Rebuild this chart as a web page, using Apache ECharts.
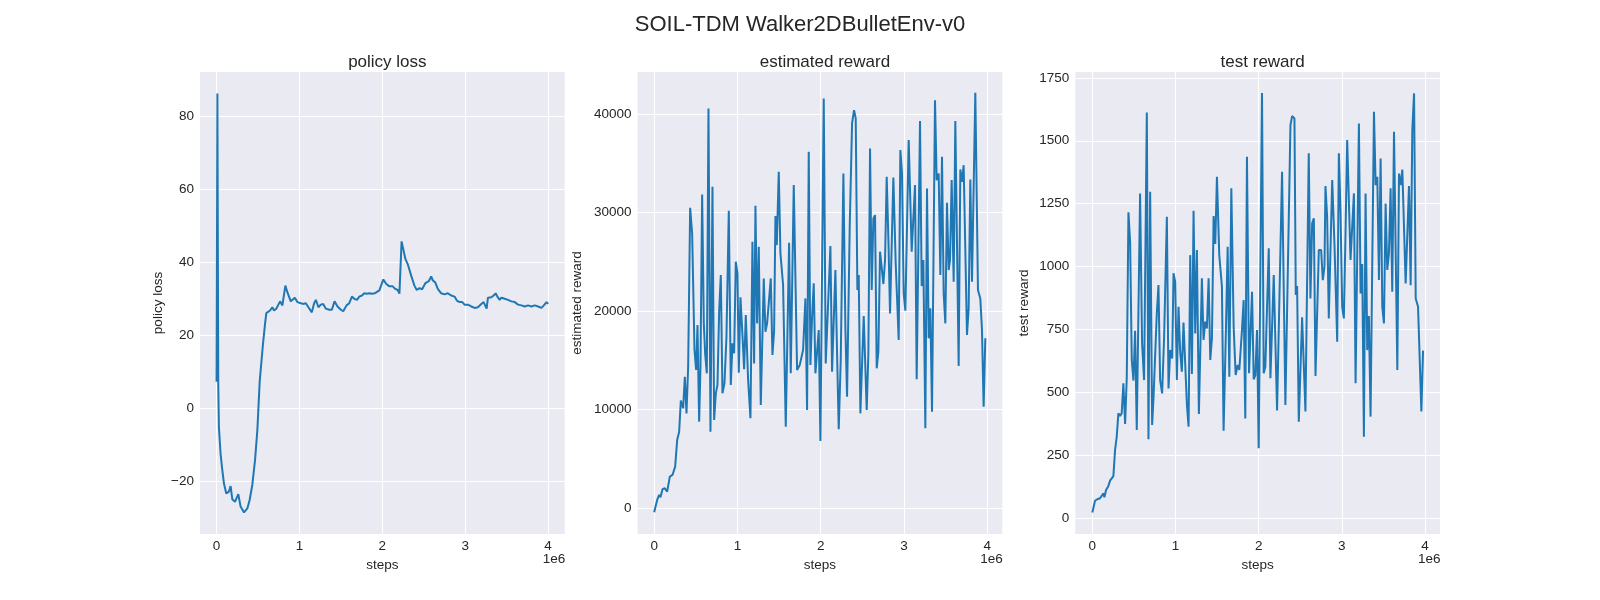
<!DOCTYPE html>
<html>

<head>
    <title>SOIL-TDM Walker2DBulletEnv-v0</title>
    <meta charset="UTF-8">
    <script src="https://cdn.jsdelivr.net/npm/echarts@6/dist/echarts.min.js"></script>
</head>
<style type="text/css">
    html,
    body {
        height: 100%;
        width: 100%;
        margin: 0;
        padding: 0;
        background: #fff;
    }

    #main {
        width: 1600px;
        height: 600px;
    }
</style>

<body>
    <div id="main"></div>
</body>
<script>
    // steps are in units of 1e6
    var stepTicks = [0, 1, 2, 3, 4];

    var policyX = [0, 0.01, 0.02, 0.028, 0.048, 0.069, 0.089, 0.117, 0.149, 0.169, 0.19, 0.222, 0.238, 0.262, 0.29, 0.331, 0.371, 0.399, 0.431, 0.464, 0.492, 0.52, 0.536, 0.56, 0.585, 0.6,
        0.624, 0.645, 0.673, 0.693, 0.721, 0.742, 0.766, 0.794, 0.806, 0.83, 0.854, 0.895, 0.915, 0.944, 0.975, 1.016, 1.044, 1.077, 1.108, 1.149, 1.177, 1.198, 1.229, 1.258, 1.286, 1.319, 1.359, 1.391, 1.423, 1.459, 1.5, 1.528, 1.568, 1.601, 1.633, 1.661, 1.694, 1.722, 1.754, 1.782, 1.81, 1.843, 1.875, 1.907, 1.931, 1.964, 2.012, 2.045, 2.085, 2.125, 2.157, 2.185, 2.206,
        2.214, 2.232, 2.278, 2.306, 2.347, 2.387, 2.415, 2.448, 2.48, 2.52, 2.56, 2.589, 2.609, 2.638, 2.669, 2.71, 2.75, 2.79, 2.831, 2.871, 2.899, 2.932, 2.964, 2.992, 3.032, 3.073, 3.113, 3.153, 3.194, 3.222, 3.246, 3.258, 3.274, 3.315, 3.343, 3.367, 3.388, 3.416, 3.436, 3.476, 3.516, 3.557, 3.597, 3.637, 3.678, 3.718, 3.758, 3.799, 3.839, 3.879, 3.92, 3.948, 3.981, 4.0];
    var policyLoss = [7.3, 86.1, 7.3, -5, -12.3, -16.8, -20.5, -23.2, -22.7, -21.2, -24.8, -25.5, -25.4, -23.4, -26.8, -28.4, -27.3, -25, -20.9, -14.1, -5.9, 7.3, 7.7, 17.7, 23.2, 26.1,
        25.9, 26.8, 27.7, 26.8, 27.3, 27, 29.3, 28.2, 28.6, 33.6, 31.8, 29.3, 29.1, 30.3, 29.1, 28.8, 28.6, 28.8, 27.7, 26.3, 28.8, 29.7, 27.7, 28.4, 28.6, 27.3, 27, 27, 29.3, 27.9, 27, 26.6, 28.2, 28.8, 30.6, 30, 29.7, 30.6, 30.9, 31.5, 31.4, 31.5, 31.4, 31.5, 31.2, 32.3, 35.3, 34.1, 33.4, 33.4, 32.7, 32.4, 31.4,
        30.9, 45.7, 40.9, 39.5, 36.4, 33.6, 32.4, 32.9, 32.6, 34.3, 34.8, 36.1, 35, 34.5, 32.7, 31.5, 31.2, 31.5, 30.9, 30.6, 29.5, 29.1, 29.1, 28.4, 28.4, 27.9, 27.5, 27.7, 28.6, 29.1, 28.6, 27.3, 30.3, 30.4, 30.9, 31.5, 30.6, 29.7, 30.3, 30, 29.7, 29.3, 29.1, 28.4, 28.2, 27.9, 28.2, 27.9, 28.2, 27.9, 27.5, 28.2, 29.1, 28.6];
    var lossTicks = [-20, 0, 20, 40, 60, 80];

    var estX = [0, 0.016, 0.036, 0.06, 0.076, 0.1, 0.128, 0.156, 0.188, 0.22, 0.252, 0.276, 0.3, 0.32, 0.348, 0.368, 0.388, 0.408, 0.432, 0.456, 0.484, 0.504, 0.52, 0.54, 0.556, 0.576, 0.596, 0.612, 0.632, 0.652, 0.676, 0.7, 0.72, 0.74, 0.76, 0.78, 0.8, 0.82, 0.844, 0.868, 0.896, 0.92, 0.94, 0.96, 0.98, 1.0, 1.016, 1.036, 1.06, 1.08, 1.1, 1.128, 1.156, 1.18, 1.2, 1.216, 1.236, 1.256, 1.28, 1.316, 1.336, 1.356, 1.376, 1.4, 1.42, 1.44, 1.456, 1.472, 1.496, 1.516, 1.548, 1.58, 1.62, 1.64, 1.676, 1.716, 1.748, 1.768, 1.788, 1.816, 1.836, 1.856, 1.876, 1.896, 1.916, 1.936, 1.956, 1.976, 1.996, 2.036, 2.06, 2.08, 2.116, 2.136, 2.156, 2.176, 2.196, 2.216, 2.24, 2.272, 2.296, 2.316, 2.348, 2.376, 2.4, 2.42, 2.44, 2.456, 2.476, 2.516, 2.552, 2.572, 2.592, 2.612, 2.632, 2.652, 2.672, 2.692, 2.712, 2.732, 2.752, 2.772, 2.792, 2.812, 2.832, 2.872, 2.9, 2.936, 2.956, 2.976, 2.996, 3.016, 3.056, 3.092, 3.132, 3.152, 3.192, 3.212, 3.232, 3.256, 3.276, 3.296, 3.316, 3.336, 3.372, 3.392, 3.416, 3.436, 3.456, 3.476, 3.496, 3.516, 3.536, 3.552, 3.572, 3.596, 3.616, 3.656, 3.676, 3.696, 3.716, 3.756, 3.776, 3.796, 3.816, 3.856, 3.888, 3.916, 3.936, 3.956, 3.976];
    var estReward = [-400, -400, 845, 1350, 1115, 1930, 2030, 1690, 3210, 3380, 4225, 6930, 7770, 10920, 10140, 13350, 9630, 14365, 30490, 27880, 16050, 14030, 18590, 8790, 14365, 31840, 18760, 15720, 13690, 40560, 7770, 32620, 8960, 11660, 12510, 19940, 23660, 11660, 12680, 17410, 30180, 12510, 16730, 15720, 25010, 23830, 13760, 21400, 17580, 14100, 19600, 13010, 9130, 27040, 14700, 30690, 18760, 26530, 10480, 23320, 17910, 18760, 18690, 23320, 15550, 17910, 29640, 26700, 34140, 25860, 22650, 8280, 26940, 13690, 32790, 14030, 14530, 14530, 16050, 21290, 9970, 36170, 14530, 19430, 22820, 13690, 15890, 18080, 6830, 41570, 14700, 14870, 26600, 13860, 13760, 24170, 15720, 8010, 15040, 33970, 18250, 11320, 28560, 39040, 40390, 39550, 22140, 23660, 9630, 19500, 9970, 15720, 36500, 22140, 29410, 29740, 14200, 15890, 26030, 26200, 22750, 25180, 33630, 27380, 19770, 33560, 24840, 17070, 36340, 33970, 21800, 20040, 37350, 26030, 32790, 13080, 39280, 22540, 25180, 8110, 32450, 17240, 20280, 9800, 41400, 33290, 33970, 23660, 35660, 21800, 18760, 30990, 24170, 25180, 33290, 22980, 39280, 14430, 34380, 33120, 34810, 17580, 20280, 33360, 22980, 42150, 22140, 21290, 18080, 10310, 17240];
    var estTicks = [0, 10000, 20000, 30000, 40000];

    var testX = [0, 0.016, 0.032, 0.06, 0.092, 0.112, 0.133, 0.145, 0.165, 0.193, 0.213, 0.233, 0.253, 0.273, 0.293, 0.313, 0.333, 0.353, 0.373, 0.394, 0.414, 0.434, 0.454, 0.474, 0.494, 0.514, 0.534, 0.574, 0.598, 0.622, 0.655, 0.675, 0.695, 0.719, 0.735, 0.759, 0.775, 0.795, 0.815, 0.839, 0.863, 0.896, 0.916, 0.936, 0.96, 0.976, 0.996, 1.016, 1.036, 1.056, 1.076, 1.096, 1.137, 1.157, 1.177, 1.197, 1.217, 1.237, 1.257, 1.281, 1.317, 1.337, 1.357, 1.377, 1.398, 1.418, 1.438, 1.458, 1.478, 1.498, 1.526, 1.558, 1.578, 1.606, 1.627, 1.647, 1.671, 1.699, 1.723, 1.747, 1.767, 1.799, 1.819, 1.839, 1.859, 1.884, 1.92, 1.94, 1.96, 1.98, 2.0, 2.04, 2.06, 2.08, 2.121, 2.141, 2.161, 2.181, 2.221, 2.281, 2.321, 2.382, 2.402, 2.43, 2.446, 2.462, 2.482, 2.522, 2.562, 2.602, 2.622, 2.643, 2.663, 2.683, 2.723, 2.751, 2.771, 2.791, 2.803, 2.823, 2.843, 2.884, 2.912, 2.944, 2.964, 2.984, 3.004, 3.024, 3.044, 3.064, 3.104, 3.145, 3.165, 3.205, 3.225, 3.245, 3.265, 3.285, 3.305, 3.325, 3.345, 3.386, 3.406, 3.426, 3.446, 3.466, 3.486, 3.506, 3.526, 3.546, 3.566, 3.586, 3.606, 3.627, 3.667, 3.687, 3.707, 3.727, 3.767, 3.807, 3.827, 3.847, 3.868, 3.888, 3.916, 3.956, 3.976];
    var testReward = [24, 24, 71, 77, 81, 90, 100, 85, 114, 130, 151, 153, 169, 272, 325, 418, 407, 418, 537, 376, 563, 1216, 1099, 630, 548, 746, 352, 1291, 696, 550, 1612, 315, 1298, 372, 478, 484, 815, 927, 550, 497, 722, 1198, 517, 669, 636, 974, 940, 550, 841, 663, 583, 778, 451, 365, 1046, 574, 1222, 735, 1066, 415, 954, 709, 782, 755, 954, 630, 716, 1201, 1090, 1357, 1046, 921, 349, 749, 1079, 563, 1311, 762, 570, 610, 590, 749, 868, 398, 1437, 577, 901, 553, 570, 749, 279, 1690, 577, 603, 1073, 557, 563, 967, 429, 1377, 451, 1562, 1598, 1589, 888, 923, 385, 799, 425, 1450, 874, 1172, 1192, 566, 1066, 1066, 947, 1000, 1320, 1198, 795, 1344, 1079, 702, 1450, 1218, 841, 795, 1132, 1503, 1027, 1291, 537, 1569, 894, 1011, 325, 1291, 669, 804, 405, 1615, 1324, 1357, 947, 1430, 841, 775, 1251, 987, 1053, 1311, 901, 1536, 590, 1370, 1324, 1386, 934, 1320, 927, 1542, 1688, 874, 841, 425, 667];
    var testTicks = [0, 250, 500, 750, 1000, 1250, 1500, 1750];

    var panelTitles = ['policy loss', 'estimated reward', 'test reward'];

    var FONT = '"Liberation Sans", Arial, sans-serif';
    var TXT = '#262626';
    var LINE = '#1f77b4';

    function zip(xs, ys) {
        var out = [];
        for (var i = 0; i < xs.length; i++) out.push([xs[i], ys[i]]);
        return out;
    }
    function fmtNum(v) {
        return v < 0 ? '\u2212' + Math.abs(v) : String(v);
    }

    var gridLeft = [200, 637.6, 1075.3];
    var gridW = 364.7;
    var gridTop = 72, gridH = 462;

    var panels = [
        { x: policyX, y: policyLoss, ticks: lossTicks, ymin: -34.3, ymax: 92.0, xmin: -0.2, xmax: 4.2, nameGap: 35 },
        { x: estX, y: estReward, ticks: estTicks, ymin: -2610, ymax: 44260, xmin: -0.199, xmax: 4.18, nameGap: 53 },
        { x: testX, y: testReward, ticks: testTicks, ymin: -61, ymax: 1773, xmin: -0.205, xmax: 4.18, nameGap: 44 }
    ];

    var grids = [], xAxes = [], yAxes = [], series = [], titles = [], graphics = [];

    titles.push({
        text: 'SOIL-TDM Walker2DBulletEnv-v0',
        left: 'center', top: 9,
        textStyle: { fontFamily: FONT, fontSize: 22, fontWeight: 'normal', color: TXT }
    });

    panels.forEach(function (p, i) {
        grids.push({
            left: gridLeft[i], top: gridTop, width: gridW, height: gridH,
            show: true, backgroundColor: '#EAEAF2', borderWidth: 0
        });
        titles.push({
            text: panelTitles[i],
            left: gridLeft[i] + gridW / 2, top: 49, textAlign: 'center',
            textStyle: { fontFamily: FONT, fontSize: 17, fontWeight: 'normal', color: TXT }
        });
        xAxes.push({
            type: 'value', gridIndex: i, min: p.xmin, max: p.xmax,
            name: 'steps', nameLocation: 'middle', nameGap: 23,
            nameTextStyle: { fontFamily: FONT, fontSize: 13.5, color: TXT },
            axisLine: { show: false },
            axisTick: { show: true, length: 0, customValues: stepTicks },
            axisLabel: { customValues: stepTicks, margin: 5, fontFamily: FONT, fontSize: 13.5, color: TXT,
                formatter: function (v) { return fmtNum(v); } },
            splitLine: { show: true, lineStyle: { color: '#ffffff', width: 1 } }
        });
        yAxes.push({
            type: 'value', gridIndex: i, min: p.ymin, max: p.ymax,
            name: panelTitles[i], nameLocation: 'middle', nameGap: p.nameGap,
            nameTextStyle: { fontFamily: FONT, fontSize: 13.5, color: TXT },
            axisLine: { show: false },
            axisTick: { show: true, length: 0, customValues: p.ticks },
            axisLabel: { customValues: p.ticks, margin: 6, fontFamily: FONT, fontSize: 13.5, color: TXT,
                formatter: function (v) { return fmtNum(v); } },
            splitLine: { show: true, lineStyle: { color: '#ffffff', width: 1 } }
        });
        series.push({
            type: 'line', xAxisIndex: i, yAxisIndex: i,
            data: zip(p.x, p.y),
            showSymbol: false, symbol: 'none',
            lineStyle: { color: LINE, width: 2 },
            z: 3
        });
        graphics.push({
            type: 'text',
            left: gridLeft[i] + gridW - 22, top: 552,
            style: { text: '1e6', fontFamily: FONT, fontSize: 13.5, fill: TXT }
        });
    });

    var myChart = echarts.init(document.getElementById('main'));
    myChart.setOption({
        animation: false,
        backgroundColor: '#ffffff',
        title: titles,
        grid: grids,
        xAxis: xAxes,
        yAxis: yAxes,
        series: series,
        graphic: graphics
    });
</script>

</html>
